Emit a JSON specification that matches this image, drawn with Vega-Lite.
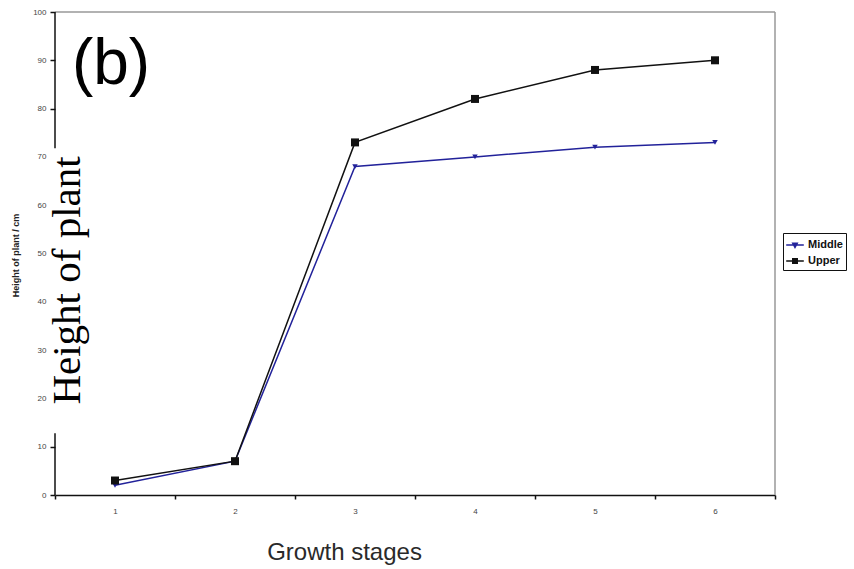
{
  "$schema": "https://vega.github.io/schema/vega-lite/v6.json",
  "width": 720,
  "height": 483,
  "autosize": "none",
  "padding": {"left": 55, "top": 12, "right": 79, "bottom": 74},
  "background": "white",
  "config": {"view": {"stroke": null}, "font": "Liberation Sans"},
  "data": {
    "values": [
      {"stage": "1", "series": "Middle", "height": 2},
      {"stage": "2", "series": "Middle", "height": 7},
      {"stage": "3", "series": "Middle", "height": 68},
      {"stage": "4", "series": "Middle", "height": 70},
      {"stage": "5", "series": "Middle", "height": 72},
      {"stage": "6", "series": "Middle", "height": 73},
      {"stage": "1", "series": "Upper", "height": 3},
      {"stage": "2", "series": "Upper", "height": 7},
      {"stage": "3", "series": "Upper", "height": 73},
      {"stage": "4", "series": "Upper", "height": 82},
      {"stage": "5", "series": "Upper", "height": 88},
      {"stage": "6", "series": "Upper", "height": 90}
    ]
  },
  "layer": [
    {
      "encoding": {
        "x": {
          "field": "stage",
          "type": "ordinal",
          "scale": {"type": "band", "paddingInner": 0, "paddingOuter": 0, "domain": ["1", "2", "3", "4", "5", "6"]},
          "axis": {
            "title": "Growth stages",
            "titleFontSize": 24,
            "titleFontWeight": "normal",
            "titleColor": "#2a2a2a",
            "titleX": 289,
            "titleY": 45,
            "labelAngle": 0,
            "labelFontSize": 8,
            "labelColor": "#444444",
            "labelPadding": 8,
            "tickBand": "extent",
            "tickSize": 4,
            "tickColor": "#111111",
            "tickWidth": 1.5,
            "domainColor": "#111111",
            "domainWidth": 1.5,
            "grid": false
          }
        },
        "y": {
          "field": "height",
          "type": "quantitative",
          "scale": {"domain": [0, 100], "nice": false},
          "axis": {
            "title": "Height of plant / cm",
            "titleFontSize": 9,
            "titleFontWeight": "bold",
            "titleColor": "#222222",
            "titleX": -40,
            "titleY": 243,
            "titleAngle": -90,
            "titleAlign": "center",
            "titleBaseline": "middle",
            "values": [0, 10, 20, 30, 40, 50, 60, 70, 80, 90, 100],
            "labelFontSize": 8,
            "labelColor": "#444444",
            "labelPadding": 4,
            "tickSize": 5,
            "tickColor": "#111111",
            "tickWidth": 1.5,
            "tickOpacity": {"condition": {"test": "datum.value > 15 && datum.value < 75", "value": 0}, "value": 1},
            "domain": false,
            "grid": false
          }
        }
      },
      "layer": [
        {
          "transform": [{"filter": "datum.stage === '1' && datum.series === 'Middle'"}],
          "mark": {"type": "rule", "color": "#999999", "strokeWidth": 1.5},
          "encoding": {
            "x": {"datum": "1", "bandPosition": 0},
            "x2": {"datum": "6", "bandPosition": 1},
            "y": {"datum": 100}
          }
        },
        {
          "transform": [{"filter": "datum.stage === '1' && datum.series === 'Middle'"}],
          "mark": {"type": "rule", "color": "#999999", "strokeWidth": 1.5},
          "encoding": {"x": {"datum": "6", "bandPosition": 1}, "y": {"datum": 0}, "y2": {"datum": 100}}
        },
        {
          "transform": [{"filter": "datum.stage === '1' && datum.series === 'Middle'"}],
          "mark": {"type": "rule", "color": "#111111", "strokeWidth": 1.5},
          "encoding": {"x": {"datum": "1", "bandPosition": 0}, "y": {"datum": 0}, "y2": {"datum": 12.8}}
        },
        {
          "transform": [{"filter": "datum.stage === '1' && datum.series === 'Middle'"}],
          "mark": {"type": "rule", "color": "#111111", "strokeWidth": 1.5},
          "encoding": {"x": {"datum": "1", "bandPosition": 0}, "y": {"datum": 71.8}, "y2": {"datum": 100}}
        },
        {
          "transform": [{"filter": "datum.series === 'Middle'"}],
          "mark": {"type": "line", "strokeWidth": 1.5, "color": "#22229a"}
        },
        {
          "transform": [{"filter": "datum.series === 'Upper'"}],
          "mark": {"type": "line", "strokeWidth": 1.5, "color": "#111111"}
        },
        {
          "transform": [{"filter": "datum.series === 'Middle'"}],
          "mark": {"type": "point", "filled": true, "shape": "triangle-down", "size": 30, "color": "#22229a", "opacity": 1}
        },
        {
          "transform": [{"filter": "datum.series === 'Upper'"}],
          "mark": {"type": "point", "filled": true, "shape": "square", "size": 64, "color": "#111111", "opacity": 1}
        },
        {
          "mark": {"type": "point", "filled": true, "size": 0},
          "encoding": {
            "fill": {
              "field": "series",
              "type": "nominal",
              "scale": {"domain": ["Middle", "Upper"], "range": ["#22229a", "#111111"]},
              "legend": {
                "title": null, "orient": "none", "legendX": 728, "legendY": 221,
                "strokeColor": "#111111", "fillColor": "white", "padding": 3, "rowPadding": 1,
                "symbolSize": 256, "symbolStrokeWidth": 1.5, "symbolOpacity": 1,
                "labelFontSize": 11, "labelFontWeight": "bold", "labelOffset": 4, "labelColor": "#111111"
              }
            },
            "stroke": {
              "field": "series",
              "type": "nominal",
              "scale": {"domain": ["Middle", "Upper"], "range": ["#22229a", "#111111"]},
              "legend": {
                "title": null, "orient": "none", "legendX": 728, "legendY": 221,
                "strokeColor": "#111111", "fillColor": "white", "padding": 3, "rowPadding": 1,
                "symbolSize": 256, "symbolStrokeWidth": 1.5, "symbolOpacity": 1,
                "labelFontSize": 11, "labelFontWeight": "bold", "labelOffset": 4, "labelColor": "#111111"
              }
            },
            "shape": {
              "field": "series",
              "type": "nominal",
              "scale": {
                "domain": ["Middle", "Upper"],
                "range": [
                  "M-1.1,0H1.1M-0.28,-0.22L0.28,-0.22L0,0.3Z",
                  "M-1.1,0H1.1M-0.28,-0.28H0.28V0.28H-0.28Z"
                ]
              },
              "legend": {
                "title": null, "orient": "none", "legendX": 728, "legendY": 221,
                "strokeColor": "#111111", "fillColor": "white", "padding": 3, "rowPadding": 1,
                "symbolSize": 256, "symbolStrokeWidth": 1.5, "symbolOpacity": 1,
                "labelFontSize": 11, "labelFontWeight": "bold", "labelOffset": 4, "labelColor": "#111111"
              }
            }
          }
        },
        {
          "transform": [{"filter": "datum.stage === '1' && datum.series === 'Middle'"}],
          "mark": {"type": "text", "text": "(b)", "fontSize": 64, "font": "Liberation Sans", "align": "center", "baseline": "middle", "color": "#000000", "dx": -4},
          "encoding": {"x": {"datum": "1"}, "y": {"datum": 89}}
        }
      ]
    },
    {
      "data": {"values": [{}]},
      "mark": {"type": "rule", "opacity": 0},
      "encoding": {
        "y": {
          "datum": 0,
          "type": "quantitative",
          "scale": {"domain": [0, 100], "nice": false},
          "axis": {
            "orient": "left",
            "title": "Height of plant",
            "titleFont": "Liberation Serif",
            "titleFontSize": 41,
            "titleFontWeight": "normal",
            "titleColor": "#000000",
            "titleX": 24,
            "titleY": 268,
            "titleAngle": -90,
            "titleAlign": "center",
            "titleBaseline": "alphabetic",
            "domain": false,
            "ticks": false,
            "labels": false,
            "grid": false
          }
        }
      }
    }
  ],
  "resolve": {"scale": {"y": "independent"}}
}
